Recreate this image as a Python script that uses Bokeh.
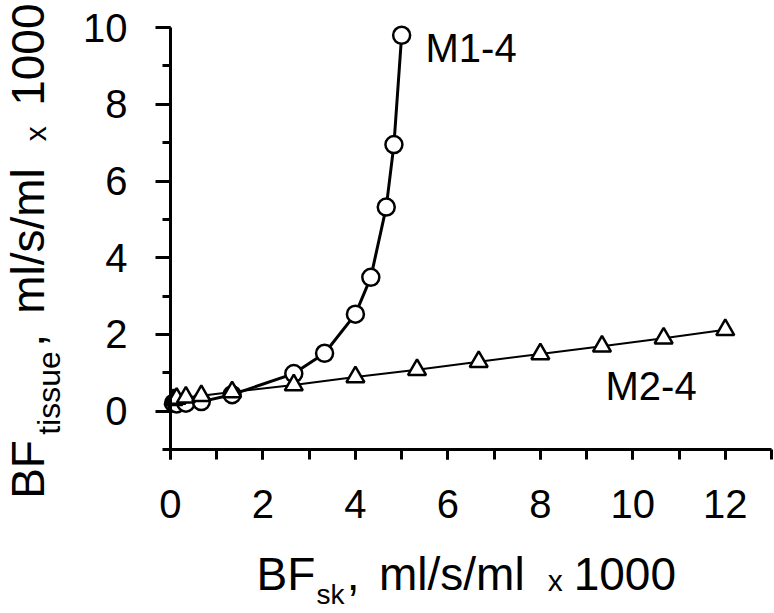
import math
from bokeh.plotting import figure
from bokeh.models import FixedTicker, Label, Range1d, LinearAxis
from bokeh.embed import file_html
from bokeh.resources import INLINE

# ---- data ----
m1_x = [0.067, 0.133, 0.333, 0.667, 1.333, 2.667, 3.333, 4.0, 4.333, 4.667, 4.833, 5.0]
m1_y = [0.21, 0.19, 0.21, 0.25, 0.43, 0.98, 1.51, 2.53, 3.49, 5.32, 6.95, 9.80]
m2_x = [0.067, 0.133, 0.333, 0.667, 1.333, 2.667, 4.0, 5.333, 6.667, 8.0, 9.333, 10.667, 12.0]
m2_y = [0.30, 0.33, 0.36, 0.40, 0.50, 0.68, 0.89, 1.08, 1.29, 1.49, 1.69, 1.90, 2.12]

x_major = [0, 2, 4, 6, 8, 10, 12]
x_minor = list(range(0, 14))
y_major = [0, 2, 4, 6, 8, 10]
y_minor = list(range(-1, 11))

FONT = "Liberation Sans"
PX_X = 46.23   # pixels per x unit
PX_Y = 38.36   # pixels per y unit

p = figure(width=774, height=613, output_backend="svg", toolbar_location=None,
           x_range=Range1d(-3.677, 13.065), y_range=Range1d(-5.274, 10.706),
           x_axis_location=None, y_axis_location=None,
           min_border=0)
p.outline_line_color = None
p.grid.visible = False
p.background_fill_color = "white"
p.border_fill_color = "white"

xaxis = LinearAxis(fixed_location=-1, bounds=(0, 13),
                   ticker=FixedTicker(ticks=x_major, minor_ticks=x_minor))
yaxis = LinearAxis(fixed_location=0, bounds=(-1, 10),
                   ticker=FixedTicker(ticks=y_major, minor_ticks=y_minor))
for ax in (xaxis, yaxis):
    ax.axis_line_width = 3
    ax.axis_line_color = "black"
    ax.major_tick_line_width = 3
    ax.minor_tick_line_width = 3
    ax.major_tick_line_color = "black"
    ax.minor_tick_line_color = "black"
    ax.major_tick_in = 0
    ax.minor_tick_in = 0
    ax.major_label_text_font = FONT
    ax.major_label_text_font_size = "40px"
    ax.major_label_text_color = "black"
xaxis.major_tick_out = 10
xaxis.minor_tick_out = 10
yaxis.major_tick_out = 15
yaxis.minor_tick_out = 8
xaxis.major_label_standoff = 30
yaxis.major_label_standoff = 28
p.add_layout(xaxis, "below")
p.add_layout(yaxis, "left")

# lines
p.line(m1_x, m1_y, line_color="black", line_width=3, line_join="round")
p.line(m2_x, m2_y, line_color="black", line_width=2, line_join="round")
# markers
p.scatter(m1_x, m1_y, marker="circle", size=17, fill_color="white",
          line_color="black", line_width=2.5)
p.scatter(m2_x, m2_y, marker="triangle", size=18, fill_color="white",
          line_color="black", line_width=2.5)

SHIFT = 0.4  # baseline correction in em

def lab(x, y, text, size, angle=0.0):
    if angle == 0.0:
        y = y + SHIFT * size / PX_Y
    else:
        x = x - SHIFT * size / PX_X
    p.add_layout(Label(x=x, y=y, text=text, text_font=FONT,
                       text_font_size=f"{size}px", text_color="black",
                       text_align="left", text_baseline="alphabetic",
                       angle=angle))

# series labels
lab(5.516, 9.06, "M1-4", 40)
lab(9.41, 0.23, "M2-4", 40)

# x axis title: BF_sk, ml/s/ml x 1000
XB = -4.73
XS = -5.07
lab(1.86, XB, "BF", 46)
lab(3.16, XS, "sk", 28)
lab(3.81, XB, ",", 46)
lab(4.51, XB, "ml/s/ml", 46)
lab(8.16, XB, "x", 30)
lab(8.72, XB, "1000", 46)

# y axis title: BF_tissue, ml/s/ml x 1000 (rotated)
A = math.pi / 2
DY = -0.27   # small downward nudge so the title stays inside the canvas
DX = 0.20
lab(-2.877 + DX, -2.015 + DY, "BF", 46, A)
lab(-2.552 + DX, -0.347 + DY, "tissue", 32, A)
lab(-2.877 + DX, 1.947 + DY, ",", 46, A)
lab(-2.877 + DX, 2.808 + DY, "ml/s/ml", 46, A)
lab(-2.855 + DX, 7.305 + DY, "x", 30, A)
lab(-2.877 + DX, 8.23 + DY, "1000", 46, A)

open("out.html", "w").write(file_html(p, INLINE))
